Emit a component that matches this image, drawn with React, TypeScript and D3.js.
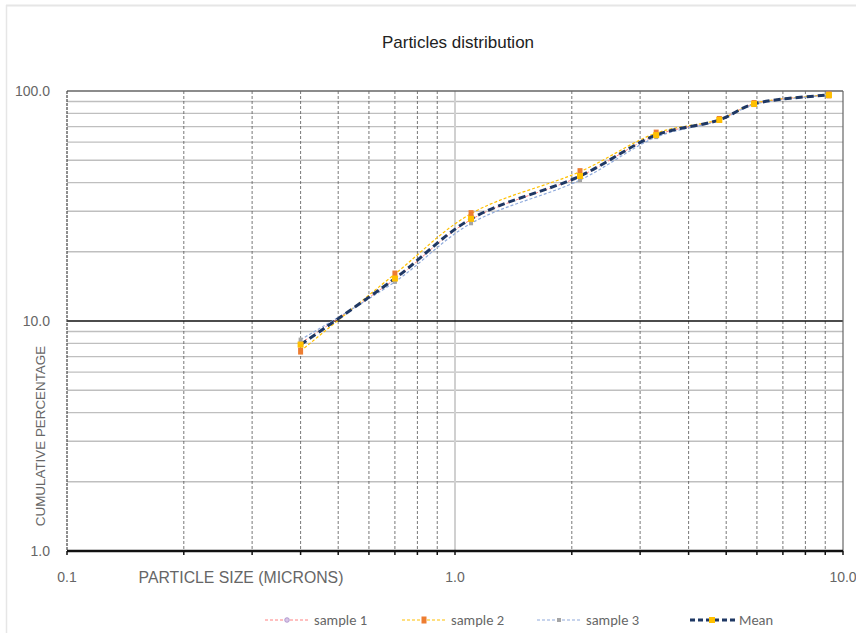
import React from "react";
import * as d3 from "d3";

const sizes = [0.4, 0.7, 1.1, 2.1, 3.3, 4.8, 5.9, 9.2];
const sample1 = [8.0, 15.2, 27.6, 42.6, 64.2, 75.0, 88.0, 96.0];
const sample2 = [7.4, 16.0, 29.3, 44.6, 65.6, 75.2, 88.2, 96.2];
const sample3 = [8.3, 14.8, 26.6, 41.0, 63.0, 74.5, 87.4, 95.8];
const meanSeries = [7.9, 15.3, 27.8, 42.7, 64.3, 74.9, 87.9, 96.0];

const yTickLabels = ["1.0", "10.0", "100.0"];
const xTickLabels = ["0.1", "1.0", "10.0"];
const legendNames = ["sample 1", "sample 2", "sample 3", "Mean"];

const W = 856;
const H = 633;
const L = 67, R = 843, T = 91, B = 551;

const x = d3.scaleLog().domain([0.1, 10]).range([L, R]);
const y = d3.scaleLog().domain([1, 100]).range([B, T]);

const minorX: number[] = [];
for (const dec of [0.1, 1]) for (let k = 2; k <= 9; k++) minorX.push(+(dec * k).toFixed(2));
const minorY: number[] = [];
for (const dec of [1, 10]) for (let k = 2; k <= 9; k++) minorY.push(dec * k);

type Series = {
  name: string;
  values: number[];
  line: string;
  width: number;
  dash: string;
  marker: "circle" | "orange" | "square" | "gold";
};

const series: Series[] = [
  { name: legendNames[0], values: sample1, line: "#ff8080", width: 1, dash: "3,2", marker: "circle" },
  { name: legendNames[1], values: sample2, line: "#ffc000", width: 1.2, dash: "3,2", marker: "orange" },
  { name: legendNames[2], values: sample3, line: "#8faadc", width: 1.2, dash: "3,2", marker: "square" },
  { name: legendNames[3], values: meanSeries, line: "#1f3864", width: 3, dash: "7,4", marker: "gold" },
];

const lineGen = d3
  .line<[number, number]>()
  .x((d) => x(d[0]))
  .y((d) => y(d[1]))
  .curve(d3.curveCatmullRom.alpha(0.5));

function Marker({ kind, cx, cy }: { kind: Series["marker"]; cx: number; cy: number }) {
  if (kind === "circle")
    return <circle cx={cx} cy={cy} r={2.3} fill="#d9c6e8" stroke="#a68bc7" strokeWidth={0.8} />;
  if (kind === "orange")
    return <rect x={cx - 2.5} y={cy - 3.5} width={5} height={7} fill="#ed7d31" />;
  if (kind === "square")
    return <rect x={cx - 2} y={cy - 2} width={4} height={4} fill="#a5a5a5" />;
  return <rect x={cx - 3} y={cy - 3} width={6} height={6} fill="#ffc000" />;
}

export default function App() {
  const font = "'Liberation Sans', Arial, sans-serif";
  const legendFont = "Carlito, 'Open Sans', 'Noto Sans', sans-serif";
  const legendX = [265, 402, 537, 690];
  return (
    <svg
      width={W}
      height={H}
      style={{ position: "absolute", left: 0, top: 0, background: "#fff", fontFamily: font }}
    >
      {/* faint spreadsheet frame */}
      <line x1={6} x2={W} y1={5.5} y2={5.5} stroke="#e6e6e6" strokeWidth={2} />
      <line x1={6.5} x2={6.5} y1={5} y2={H} stroke="#e6e6e6" strokeWidth={1.5} />

      <text x={458} y={48} textAnchor="middle" fontSize={17} fill="#222">
        Particles distribution
      </text>

      {/* horizontal minor grid */}
      {minorY.map((v) => (
        <line key={"hy" + v} x1={L} x2={R} y1={y(v)} y2={y(v)} stroke="#bfbfbf" strokeWidth={1.3} />
      ))}
      {/* 1.0 vertical */}
      <line x1={x(1)} x2={x(1)} y1={T} y2={B} stroke="#d0d0d0" strokeWidth={2} />
      {/* vertical minor dashed */}
      {minorX.map((v) => (
        <line
          key={"vx" + v}
          x1={x(v)}
          x2={x(v)}
          y1={T}
          y2={B}
          stroke="#555"
          strokeWidth={0.8}
          strokeDasharray="3,2"
        />
      ))}
      {/* major horizontal at 10 */}
      <line x1={L} x2={R} y1={y(10)} y2={y(10)} stroke="#111" strokeWidth={1.3} />
      {/* frame */}
      <line x1={L} x2={R} y1={y(100)} y2={y(100)} stroke="#666" strokeWidth={1.5} />
      <line x1={R} x2={R} y1={T} y2={B} stroke="#666" strokeWidth={1.2} />
      <line x1={L} x2={L} y1={T} y2={B} stroke="#444" strokeWidth={1.2} strokeDasharray="3,1" />
      {/* bottom axis */}
      <line x1={L} x2={R} y1={B} y2={B} stroke="#111" strokeWidth={2.5} />
      {[0.1, ...minorX, 1, 10].map((v) => (
        <line key={"tk" + v} x1={x(v)} x2={x(v)} y1={B} y2={B + 4} stroke="#111" strokeWidth={1.5} />
      ))}

      {/* y tick labels */}
      {[1, 10, 100].map((v, i) => (
        <text key={"yl" + v} x={50} y={y(v) + 5} textAnchor="end" fontSize={14} fill="#666">
          {yTickLabels[i]}
        </text>
      ))}
      {/* x tick labels */}
      {[0.1, 1, 10].map((v, i) => (
        <text key={"xl" + v} x={x(v)} y={582} textAnchor="middle" fontSize={14} fill="#666">
          {xTickLabels[i]}
        </text>
      ))}

      <text x={241} y={583} textAnchor="middle" fontSize={15.8} fill="#666">
        PARTICLE SIZE (MICRONS)
      </text>
      <text
        transform={`translate(45,436) rotate(-90)`}
        textAnchor="middle"
        fontSize={13.4}
        fill="#666"
      >
        CUMULATIVE PERCENTAGE
      </text>

      {/* series lines */}
      {series.map((s) => (
        <path
          key={"ln" + s.name}
          d={lineGen(sizes.map((sz, i) => [sz, s.values[i]] as [number, number])) || ""}
          fill="none"
          stroke={s.line}
          strokeWidth={s.width}
          strokeDasharray={s.dash}
        />
      ))}
      {series.map((s) =>
        sizes.map((sz, i) => (
          <Marker key={s.name + i} kind={s.marker} cx={x(sz)} cy={y(s.values[i])} />
        ))
      )}

      {/* legend */}
      {series.map((s, i) => {
        const lx = legendX[i];
        const ly = 620;
        return (
          <g key={"lg" + s.name}>
            <line
              x1={lx}
              x2={lx + 45}
              y1={ly}
              y2={ly}
              stroke={s.line}
              strokeWidth={s.width}
              strokeDasharray={s.marker === "gold" ? "5,3" : "3,2"}
            />
            <Marker kind={s.marker} cx={lx + 22} cy={ly} />
            <text x={lx + 49} y={ly + 5} fontSize={14.5} fill="#666" fontFamily={legendFont}>
              {s.name}
            </text>
          </g>
        );
      })}
    </svg>
  );
}
